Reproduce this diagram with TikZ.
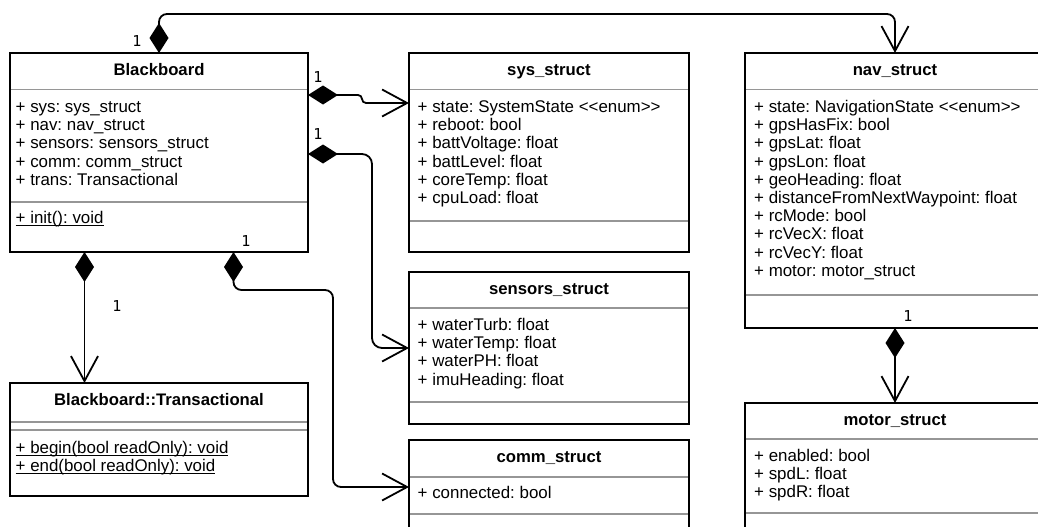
\documentclass[tikz,border=0pt]{standalone}
\usepackage{fontspec}
\setmainfont{Liberation Sans}
\newfontfamily\multfont{DejaVu Sans Mono}
\usetikzlibrary{arrows.meta,calc}
\frenchspacing

\definecolor{sepgray}{RGB}{150,150,150}
\newcommand\attrfont{\fontsize{16.9}{18.2}\selectfont}
\newcommand\titlefont{\fontsize{16.7}{18.2}\selectfont\bfseries}
\newcommand\multsize{\multfont\fontsize{15}{15}\selectfont}
% static members are underlined
\newcommand\ulmethod[1]{\setbox0\hbox{#1}\rlap{\rule[-2.8pt]{\wd0}{1.1pt}}\box0}

\tikzset{
  classbox/.style={draw, line width=1.8pt, inner sep=0pt, outer sep=0pt, anchor=north west},
  sepline/.style={draw=sepgray, line width=1.8pt, shorten <=0.9pt, shorten >=0.9pt},
  ctitle/.style={anchor=base, inner sep=0pt, font=\titlefont},
  attr/.style={anchor=base west, inner sep=0pt, font=\attrfont},
  mult/.style={anchor=center, inner sep=0pt, font=\multsize},
  comp/.style={line width=1.8pt,
    {Diamond[length=30pt,width=19pt]}-{Straight Barb[length=25pt,width=27pt]}},
}

\begin{document}
\begin{tikzpicture}[x=1pt, y=-1pt]
\useasboundingbox (0,0) rectangle (1038,527);
\clip (0,0) rectangle (1038,527);

% ---------- Blackboard ----------
\node[classbox, minimum width=298pt, minimum height=199pt] (bb) at (10,53) {};
\draw[sepline] (bb.west |- 0,89.5) -- (bb.east |- 0,89.5);
\draw[sepline] (bb.west |- 0,202) -- (bb.east |- 0,202);
\node[ctitle] (bb-t) at (159,75) {Blackboard};
\foreach \t [count=\i from 0] in {+ sys: sys\_struct, + nav: nav\_struct,
    + sensors: sensors\_struct, + comm: comm\_struct, + trans: Transactional}
  \node[attr] (bb-a\i) at (15.5,{112.5+18.2*\i}) {\t};
\node[attr] (bb-m0) at (15.5,223.5) {\ulmethod{+ init(): void}};

% ---------- sys_struct ----------
\node[classbox, minimum width=280pt, minimum height=199pt] (sys) at (409,53) {};
\draw[sepline] (sys.west |- 0,89.5) -- (sys.east |- 0,89.5);
\draw[sepline] (sys.west |- 0,221) -- (sys.east |- 0,221);
\node[ctitle] (sys-t) at (549,75) {sys\_struct};
\foreach \t [count=\i from 0] in {+ state: SystemState <\kern0pt<enum>\kern0pt>,
    + reboot: bool, + battVoltage: float, + battLevel: float,
    + coreTemp: float, + cpuLoad: float}
  \node[attr] (sys-a\i) at (417.5,{112.5+18.2*\i}) {\t};

% ---------- nav_struct ----------
\node[classbox, minimum width=300pt, minimum height=275pt] (nav) at (745,53) {};
\draw[sepline] (nav.west |- 0,89.5) -- (nav.east |- 0,89.5);
\draw[sepline] (nav.west |- 0,295) -- (nav.east |- 0,295);
\node[ctitle] (nav-t) at (895,75) {nav\_struct};
\foreach \t [count=\i from 0] in {+ state: NavigationState <\kern0pt<enum>\kern0pt>,
    + gpsHasFix: bool, + gpsLat: float, + gpsLon: float, + geoHeading: float,
    + distanceFromNextWaypoint: float, + rcMode: bool, + rcVecX: float,
    + rcVecY: float, + motor: motor\_struct}
  \node[attr] (nav-a\i) at (754,{112.5+18.2*\i}) {\t};

% ---------- sensors_struct ----------
\node[classbox, minimum width=280pt, minimum height=152pt] (sensors) at (409,272) {};
\draw[sepline] (sensors.west |- 0,308) -- (sensors.east |- 0,308);
\draw[sepline] (sensors.west |- 0,402) -- (sensors.east |- 0,402);
\node[ctitle] (sensors-t) at (549,294) {sensors\_struct};
\foreach \t [count=\i from 0] in {+ waterTurb: float, + waterTemp: float,
    + waterPH: float, + imuHeading: float}
  \node[attr] (sensors-a\i) at (417.5,{330.5+18.2*\i}) {\t};

% ---------- comm_struct ----------
\node[classbox, minimum width=280pt, minimum height=94pt] (comm) at (409,440) {};
\draw[sepline] (comm.west |- 0,477) -- (comm.east |- 0,477);
\draw[sepline] (comm.west |- 0,514) -- (comm.east |- 0,514);
\node[ctitle] (comm-t) at (549,462) {comm\_struct};
\node[attr] (comm-a0) at (417.5,498.5) {+ connected: bool};

% ---------- motor_struct ----------
\node[classbox, minimum width=300pt, minimum height=150pt] (motor) at (745,403) {};
\draw[sepline] (motor.west |- 0,439) -- (motor.east |- 0,439);
\draw[sepline] (motor.west |- 0,513) -- (motor.east |- 0,513);
\node[ctitle] (motor-t) at (895,425) {motor\_struct};
\foreach \t [count=\i from 0] in {+ enabled: bool, + spdL: float, + spdR: float}
  \node[attr] (motor-a\i) at (754,{461.5+18.2*\i}) {\t};

% ---------- Blackboard::Transactional ----------
\node[classbox, minimum width=298pt, minimum height=113pt] (trans) at (10,383) {};
\draw[sepline] (trans.west |- 0,422) -- (trans.east |- 0,422);
\draw[sepline] (trans.west |- 0,430) -- (trans.east |- 0,430);
\node[ctitle] (trans-t) at (159,405) {Blackboard::Transactional};
\node[attr] (trans-m0) at (15.5,453) {\ulmethod{+ begin(bool readOnly): void}};
\node[attr] (trans-m1) at (15.5,471.2) {\ulmethod{+ end(bool readOnly): void}};

% ---------- compositions ----------
\coordinate (topY) at (0,14);
\coordinate (bbS1) at ($(bb.south west)!0.25!(bb.south east)$);
\coordinate (bbS2) at ($(bb.south west)!0.75!(bb.south east)$);
\coordinate (trN) at ($(trans.north west)!0.25!(trans.north east)$);

\draw[comp, rounded corners=8pt] (bb.north) -- (bb.north |- topY)
  -- (nav.north |- topY) -- (nav.north);
\draw[comp, rounded corners=4pt] (bb.east |- 0,95) -- (362,95) -- (362,103)
  -- (sys.west |- 0,103);
\draw[comp, rounded corners=10pt] (bb.east |- 0,154) -- (372,154)
  -- (372,348) -- (sensors.west);
\draw[comp] (bbS1) -- (trN);
\draw[comp, rounded corners=8pt] (bbS2) -- (bbS2 |- 0,290) -- (333,290)
  -- (333,487) -- (comm.west);
\draw[comp] (nav.south) -- (motor.north);

% ---------- multiplicities ----------
\node[mult] (m-nav) at (137,41) {1};
\node[mult] (m-sys) at (318,77) {1};
\node[mult] (m-sensors) at (318,134) {1};
\node[mult] (m-trans) at (117,306) {1};
\node[mult] (m-comm) at (246,241) {1};
\node[mult] (m-motor) at (908,316) {1};
\end{tikzpicture}
\end{document}
